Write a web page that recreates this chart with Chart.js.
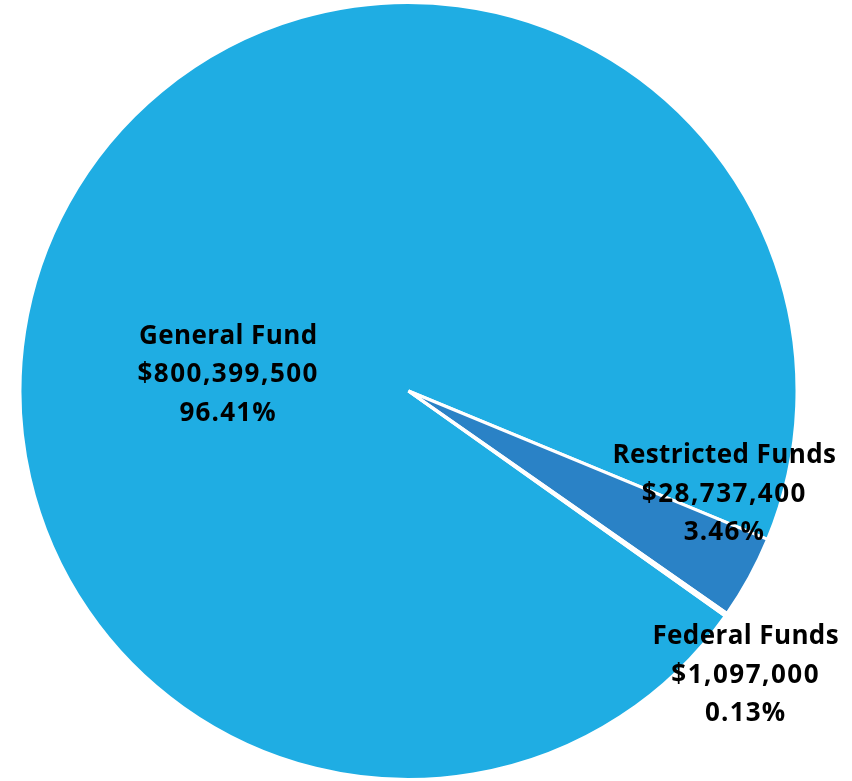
<!DOCTYPE html>
<html>
<head>
<meta charset="utf-8">
<script src="https://cdn.jsdelivr.net/npm/chart.js@4"></script>
<style>
  html, body { margin: 0; padding: 0; background: #ffffff; }
  #wrap { width: 852px; height: 781px; position: relative; }
</style>
</head>
<body>
<div id="wrap"><canvas id="c" width="852" height="781"></canvas></div>
<script>
const categories = ["General Fund", "Restricted Funds", "Federal Funds"];
const amounts = [800399500, 28737400, 1097000];
const amountLabels = ["$800,399,500", "$28,737,400", "$1,097,000"];
const percentLabels = ["96.41%", "3.46%", "0.13%"];
const sliceColors = ["#1FADE3", "#2A82C6", "#FFFFFF"];

// label anchor offsets as fraction of radius from pie centre
const labelOffsets = [[-0.464, -0.041], [0.813, 0.266], [0.868, 0.732]];

const labelPlugin = {
  id: 'sliceLabels',
  afterDatasetsDraw(chart) {
    const ctx = chart.ctx;
    const meta = chart.getDatasetMeta(0);
    ctx.save();
    ctx.font = 'bold 26px "Open Sans"';
    ctx.fillStyle = '#000000';
    ctx.textAlign = 'center';
    ctx.textBaseline = 'middle';
    const lineH = 38.5;
    const spacing = ['0.4px', '1.5px', '1.2px'];
    meta.data.forEach((arc, i) => {
      const r = arc.outerRadius;
      const cx = arc.x + labelOffsets[i][0] * r;
      const cy = arc.y + labelOffsets[i][1] * r;
      const lines = [categories[i], amountLabels[i], percentLabels[i]];
      lines.forEach((t, k) => {
        ctx.letterSpacing = spacing[k];
        ctx.fillText(t, cx, cy + (k - 1) * lineH);
      });
    });
    ctx.restore();
  }
};

new Chart(document.getElementById('c'), {
  type: 'pie',
  data: {
    labels: categories,
    datasets: [{
      data: amounts,
      backgroundColor: sliceColors,
      borderColor: '#FFFFFF',
      borderWidth: 3,
      hoverOffset: 0
    }]
  },
  options: {
    responsive: false,
    animation: false,
    rotation: 125.4,
    layout: { padding: { left: 0, right: 35, top: 1, bottom: 0 } },
    plugins: {
      legend: { display: false },
      tooltip: { enabled: false },
      title: { display: false }
    }
  },
  plugins: [labelPlugin]
});
</script>
</body>
</html>
